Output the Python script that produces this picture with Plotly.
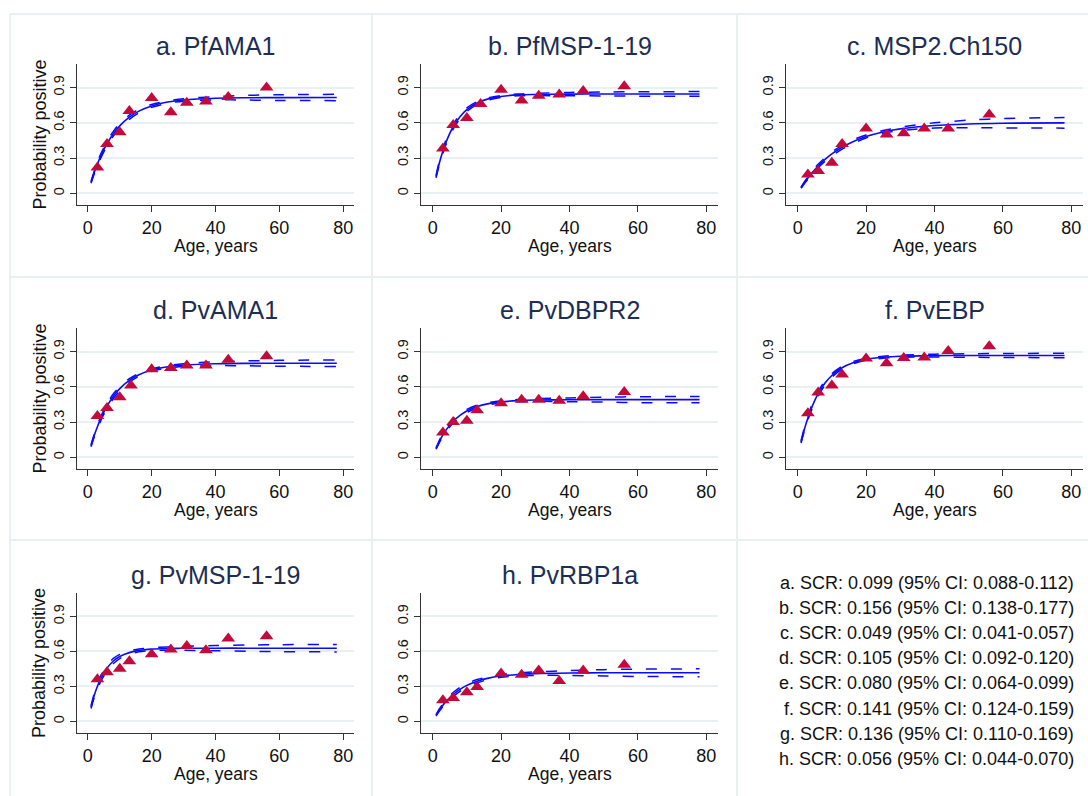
import plotly.graph_objects as go

# ---------------- data ----------------
titles = ["a. PfAMA1", "b. PfMSP-1-19", "c. MSP2.Ch150", "d. PvAMA1",
          "e. PvDBPR2", "f. PvEBP", "g. PvMSP-1-19", "h. PvRBP1a"]

ages = [3, 6, 10, 13, 20, 26, 31, 37, 44, 56]
ages_b = [3, 6, 10, 14, 20, 26, 31, 37, 44, 56]
ages_d = [3, 6, 10, 13.5, 20, 26, 31, 37, 44, 56]
curve_age = [1, 2, 3, 4, 6, 8, 10, 13, 16, 20, 25, 30, 40, 50, 60, 78]

obs_a = [0.22, 0.42, 0.52, 0.70, 0.81, 0.69, 0.77, 0.78, 0.82, 0.90]
fit_a = [0.093, 0.176, 0.249, 0.314, 0.422, 0.507, 0.573, 0.647, 0.699, 0.743, 0.776, 0.794, 0.809, 0.813, 0.814, 0.815]
hi_a = [0.101, 0.188, 0.264, 0.332, 0.442, 0.527, 0.593, 0.665, 0.714, 0.755, 0.786, 0.804, 0.823, 0.833, 0.838, 0.842]
lo_a = [0.085, 0.164, 0.234, 0.296, 0.402, 0.487, 0.553, 0.629, 0.684, 0.731, 0.766, 0.784, 0.795, 0.793, 0.790, 0.788]

obs_b = [0.38, 0.58, 0.64, 0.76, 0.88, 0.79, 0.83, 0.84, 0.87, 0.91]
fit_b = [0.142, 0.261, 0.359, 0.441, 0.566, 0.652, 0.711, 0.768, 0.801, 0.824, 0.837, 0.841, 0.844, 0.845, 0.845, 0.845]
hi_b = [0.152, 0.276, 0.377, 0.461, 0.586, 0.670, 0.726, 0.780, 0.811, 0.832, 0.845, 0.851, 0.858, 0.862, 0.864, 0.865]
lo_b = [0.132, 0.246, 0.341, 0.421, 0.546, 0.634, 0.696, 0.756, 0.791, 0.816, 0.829, 0.831, 0.830, 0.828, 0.826, 0.825]

obs_c = [0.16, 0.19, 0.26, 0.42, 0.55, 0.50, 0.51, 0.55, 0.55, 0.67]
fit_c = [0.047, 0.090, 0.130, 0.167, 0.232, 0.288, 0.335, 0.392, 0.437, 0.483, 0.522, 0.548, 0.577, 0.590, 0.596, 0.599]
hi_c = [0.052, 0.098, 0.140, 0.179, 0.246, 0.303, 0.351, 0.408, 0.452, 0.496, 0.534, 0.562, 0.599, 0.622, 0.636, 0.644]
lo_c = [0.042, 0.082, 0.120, 0.155, 0.218, 0.273, 0.319, 0.376, 0.422, 0.470, 0.510, 0.534, 0.555, 0.558, 0.556, 0.554]

obs_d = [0.35, 0.42, 0.51, 0.61, 0.75, 0.76, 0.78, 0.78, 0.83, 0.86]
fit_d = [0.098, 0.185, 0.260, 0.326, 0.435, 0.520, 0.584, 0.654, 0.702, 0.742, 0.770, 0.784, 0.796, 0.799, 0.800, 0.800]
hi_d = [0.106, 0.197, 0.275, 0.344, 0.455, 0.540, 0.602, 0.669, 0.714, 0.752, 0.780, 0.796, 0.812, 0.820, 0.825, 0.828]
lo_d = [0.090, 0.173, 0.245, 0.308, 0.415, 0.500, 0.566, 0.639, 0.690, 0.732, 0.760, 0.772, 0.780, 0.778, 0.775, 0.772]

obs_e = [0.21, 0.30, 0.31, 0.40, 0.46, 0.49, 0.49, 0.48, 0.52, 0.555]
fit_e = [0.074, 0.136, 0.190, 0.235, 0.306, 0.357, 0.394, 0.431, 0.454, 0.471, 0.482, 0.487, 0.489, 0.490, 0.490, 0.490]
hi_e = [0.080, 0.146, 0.202, 0.249, 0.321, 0.372, 0.408, 0.443, 0.464, 0.480, 0.491, 0.498, 0.505, 0.511, 0.515, 0.517]
lo_e = [0.068, 0.126, 0.178, 0.221, 0.291, 0.342, 0.380, 0.419, 0.444, 0.462, 0.473, 0.476, 0.473, 0.469, 0.465, 0.463]

obs_f = [0.375, 0.55, 0.61, 0.705, 0.84, 0.80, 0.845, 0.85, 0.905, 0.945]
fit_f = [0.130, 0.241, 0.335, 0.415, 0.541, 0.631, 0.696, 0.762, 0.802, 0.833, 0.851, 0.860, 0.865, 0.866, 0.866, 0.866]
hi_f = [0.140, 0.255, 0.352, 0.434, 0.561, 0.649, 0.711, 0.774, 0.812, 0.841, 0.859, 0.869, 0.877, 0.881, 0.883, 0.885]
lo_f = [0.120, 0.227, 0.318, 0.396, 0.521, 0.613, 0.681, 0.750, 0.792, 0.825, 0.843, 0.851, 0.853, 0.851, 0.849, 0.847]

obs_g = [0.36, 0.42, 0.45, 0.515, 0.575, 0.615, 0.645, 0.61, 0.71, 0.73]
fit_g = [0.122, 0.221, 0.300, 0.364, 0.456, 0.517, 0.556, 0.589, 0.608, 0.619, 0.624, 0.626, 0.627, 0.627, 0.627, 0.627]
hi_g = [0.134, 0.239, 0.322, 0.388, 0.481, 0.539, 0.574, 0.603, 0.620, 0.631, 0.638, 0.643, 0.649, 0.654, 0.657, 0.659]
lo_g = [0.110, 0.203, 0.278, 0.340, 0.431, 0.495, 0.538, 0.575, 0.596, 0.607, 0.610, 0.609, 0.605, 0.600, 0.597, 0.595]

obs_h = [0.18, 0.20, 0.25, 0.295, 0.41, 0.40, 0.435, 0.345, 0.435, 0.485]
fit_h = [0.052, 0.098, 0.138, 0.173, 0.230, 0.274, 0.308, 0.344, 0.368, 0.388, 0.402, 0.409, 0.414, 0.416, 0.416, 0.416]
hi_h = [0.058, 0.108, 0.151, 0.188, 0.247, 0.291, 0.324, 0.358, 0.380, 0.399, 0.414, 0.424, 0.435, 0.443, 0.447, 0.450]
lo_h = [0.046, 0.088, 0.125, 0.158, 0.213, 0.257, 0.292, 0.330, 0.356, 0.377, 0.390, 0.394, 0.393, 0.389, 0.385, 0.382]

scr_lines = [
    "a. SCR: 0.099 (95% CI: 0.088-0.112)",
    "b. SCR: 0.156 (95% CI: 0.138-0.177)",
    "c. SCR: 0.049 (95% CI: 0.041-0.057)",
    "d. SCR: 0.105 (95% CI: 0.092-0.120)",
    "e. SCR: 0.080 (95% CI: 0.064-0.099)",
    "f. SCR: 0.141 (95% CI: 0.124-0.159)",
    "g. SCR: 0.136 (95% CI: 0.110-0.169)",
    "h. SCR: 0.056 (95% CI: 0.044-0.070)",
]

x_ticks = [0, 20, 40, 60, 80]
y_ticks = [0, 0.3, 0.6, 0.9]
y_tick_text = ["0", "0.3", "0.6", "0.9"]

# ---------------- styling / layout ----------------
W, H = 1088, 796
FONT = "Arial, Liberation Sans, sans-serif"
BLUE = "#0a0aff"
RED = "#c20a3b"
GRID = "#e8f0f2"
AXC = "#333333"
TITLE_C = "#1c2e55"

cols = [(77, 354), (421, 718), (786, 1083)]
rows = [(64, 205), (328, 469), (593, 733)]

panels = [
    (titles[0], ages, obs_a, fit_a, lo_a, hi_a),
    (titles[1], ages_b, obs_b, fit_b, lo_b, hi_b),
    (titles[2], ages, obs_c, fit_c, lo_c, hi_c),
    (titles[3], ages_d, obs_d, fit_d, lo_d, hi_d),
    (titles[4], ages, obs_e, fit_e, lo_e, hi_e),
    (titles[5], ages, obs_f, fit_f, lo_f, hi_f),
    (titles[6], ages, obs_g, fit_g, lo_g, hi_g),
    (titles[7], ages, obs_h, fit_h, lo_h, hi_h),
]

fig = go.Figure()
annotations = []
layout_axes = {}

for i, (title, ag, obs, fit, lo, hi) in enumerate(panels):
    r, c = divmod(i, 3)
    n = "" if i == 0 else str(i + 1)
    xa, ya = "x" + n, "y" + n
    for series, dash, wd in ((lo, "11px,14px", 1.5), (hi, "11px,14px", 1.5), (fit, "solid", 1.6)):
        fig.add_trace(go.Scatter(x=curve_age, y=series, mode="lines", xaxis=xa, yaxis=ya,
                                 line=dict(color=BLUE, width=wd, dash=dash, shape="spline", smoothing=0.8),
                                 showlegend=False, hoverinfo="skip"))
    fig.add_trace(go.Scatter(x=ag, y=obs, mode="markers", xaxis=xa, yaxis=ya,
                             marker=dict(symbol="triangle-up", size=12, color=RED, line=dict(width=0)),
                             showlegend=False))
    x0, x1 = cols[c]
    y0, y1 = rows[r]
    layout_axes["xaxis" + n] = dict(
        domain=[x0 / W, x1 / W], range=[-3.4, 83.4], anchor=ya,
        tickvals=x_ticks, ticks="outside", ticklen=6, tickcolor=AXC, tickwidth=1.2,
        showline=True, linecolor=AXC, linewidth=1.3, showgrid=False, zeroline=False,
        tickfont=dict(size=18, color="#111111", family=FONT), fixedrange=True)
    layout_axes["yaxis" + n] = dict(
        domain=[1 - y1 / H, 1 - y0 / H], range=[-0.1, 1.1], anchor=xa,
        tickvals=y_ticks, ticktext=y_tick_text, tickangle=-90,
        ticks="outside", ticklen=6, tickcolor=AXC, tickwidth=1.2,
        showline=True, linecolor=AXC, linewidth=1.3, showgrid=True, gridcolor=GRID, gridwidth=1.5,
        zeroline=False, tickfont=dict(size=14.5, color="#111111", family=FONT), fixedrange=True)
    cx = (x0 + x1) / 2 / W
    annotations.append(dict(text=title, x=cx, y=1 - (y0 - 18) / H, xref="paper", yref="paper",
                            showarrow=False, xanchor="center", yanchor="middle",
                            font=dict(size=25, color=TITLE_C, family=FONT)))
    annotations.append(dict(text="Age, years", x=cx, y=1 - (y1 + 41) / H, xref="paper", yref="paper",
                            showarrow=False, xanchor="center", yanchor="middle",
                            font=dict(size=17.5, color="#111111", family=FONT)))
    if c == 0:
        annotations.append(dict(text="Probability positive", x=39 / W, y=1 - (y0 + y1) / 2 / H,
                                xref="paper", yref="paper", showarrow=False, textangle=-90,
                                xanchor="center", yanchor="middle",
                                font=dict(size=18, color="#111111", family=FONT)))

for k, line in enumerate(scr_lines):
    annotations.append(dict(text=line, x=1076 / W, y=1 - (583 + 25.1 * k) / H, xref="paper", yref="paper",
                            showarrow=False, xanchor="right", yanchor="middle",
                            font=dict(size=18, color="#111111", family=FONT)))

BORDER = "#e8f0f2"
shapes = []
def seg(xa0, ya0, xa1, ya1):
    shapes.append(dict(type="line", xref="paper", yref="paper",
                       x0=xa0 / W, y0=1 - ya0 / H, x1=xa1 / W, y1=1 - ya1 / H,
                       line=dict(color=BORDER, width=2), layer="below"))
seg(10, 14, 1088, 14)
seg(10, 277, 1088, 277)
seg(10, 540, 1088, 540)
seg(10, 14, 10, 796)
seg(372, 14, 372, 796)
seg(737, 14, 737, 796)

fig.update_layout(width=W, height=H, margin=dict(l=0, r=0, t=0, b=0),
                  paper_bgcolor="white", plot_bgcolor="white",
                  annotations=annotations, shapes=shapes,
                  font=dict(family=FONT), **layout_axes)

fig.write_html("out.html", config={"displayModeBar": False},
               post_script="document.body.style.margin='0px';document.body.style.overflow='hidden';")
